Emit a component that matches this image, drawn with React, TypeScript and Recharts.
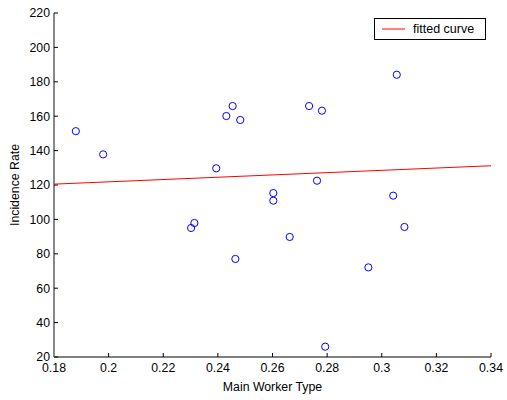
import { ScatterChart, Scatter, XAxis, YAxis } from 'recharts'

const workerType = [
  0.188, 0.198, 0.2394, 0.2431, 0.2454, 0.2482, 0.2302, 0.2314, 0.2464, 0.2603,
  0.2603, 0.2663, 0.2734, 0.2781, 0.2763, 0.2793, 0.2951, 0.3042, 0.3055, 0.3083,
]
const incidence = [
  151.3, 137.8, 129.7, 160.1, 165.9, 157.8, 95, 97.9, 77, 115.3,
  110.9, 89.8, 165.9, 163.2, 122.5, 26, 72.1, 113.8, 184.1, 95.6,
]

// fitted curve end points
const fitX = [0.18, 0.34]
const fitY = [120.5, 131.2]

const xTicks = [0.18, 0.2, 0.22, 0.24, 0.26, 0.28, 0.3, 0.32, 0.34]
const yTicks = [20, 40, 60, 80, 100, 120, 140, 160, 180, 200, 220]

const points = workerType.map((x, i) => ({ x, y: incidence[i] }))
const fit = fitX.map((x, i) => ({ x, y: fitY[i] }))

const font = 'Arial, "Liberation Sans", sans-serif'

const Circle = (props: any) => {
  const { cx, cy } = props
  if (cx == null || cy == null) return <g />
  return <circle cx={cx} cy={cy} r={3.6} fill="none" stroke="#0000ff" strokeWidth={1} />
}

export default function App() {
  return (
    <div style={{ position: 'absolute', left: 0, top: 0, width: 507, height: 400, background: '#fff' }}>
      <ScatterChart
        width={507}
        height={400}
        margin={{ top: 13, right: 16, bottom: 0, left: 0 }}
        style={{ fontFamily: font }}>
        <XAxis
          type="number"
          dataKey="x"
          domain={[0.18, 0.34]}
          ticks={xTicks}
          tickFormatter={(v: number) => String(v)}
          height={43}
          tickSize={-4}
          tickMargin={10}
          stroke="#000"
          tick={{ fill: '#000', fontSize: 12.3 }}
          label={{ value: 'Main Worker Type', position: 'insideBottom', offset: 9, fill: '#000', fontSize: 12.3 }}
        />
        <YAxis
          type="number"
          dataKey="y"
          domain={[20, 220]}
          ticks={yTicks}
          width={54}
          tickSize={-4}
          tickMargin={8}
          axisLine={{ stroke: '#888', strokeWidth: 2 }}
          tickLine={{ stroke: '#000' }}
          tick={{ fill: '#000', fontSize: 12.3 }}
          label={{ value: 'Incidence Rate', angle: -90, position: 'center', dx: -12, fill: '#000', fontSize: 12.3 }}
        />
        <Scatter
          name="fitted curve"
          data={fit}
          line={{ stroke: '#ff0000', strokeWidth: 1 }}
          shape={() => <g />}
          legendType="line"
          isAnimationActive={false}
        />
        <Scatter name="data" data={points} shape={Circle} legendType="none" isAnimationActive={false} />
      </ScatterChart>
      <div
        style={{
          position: 'absolute',
          left: 374,
          top: 18,
          width: 110,
          height: 20,
          border: '1px solid #000',
          background: '#fff',
          display: 'flex',
          alignItems: 'center',
          fontFamily: font,
          fontSize: '12.5px',
          color: '#000',
        }}>
        <svg width={38} height={20}>
          <line x1={7} y1={10} x2={30} y2={10} stroke="#ff0000" strokeWidth={1} />
        </svg>
        <span>fitted curve</span>
      </div>
    </div>
  )
}
